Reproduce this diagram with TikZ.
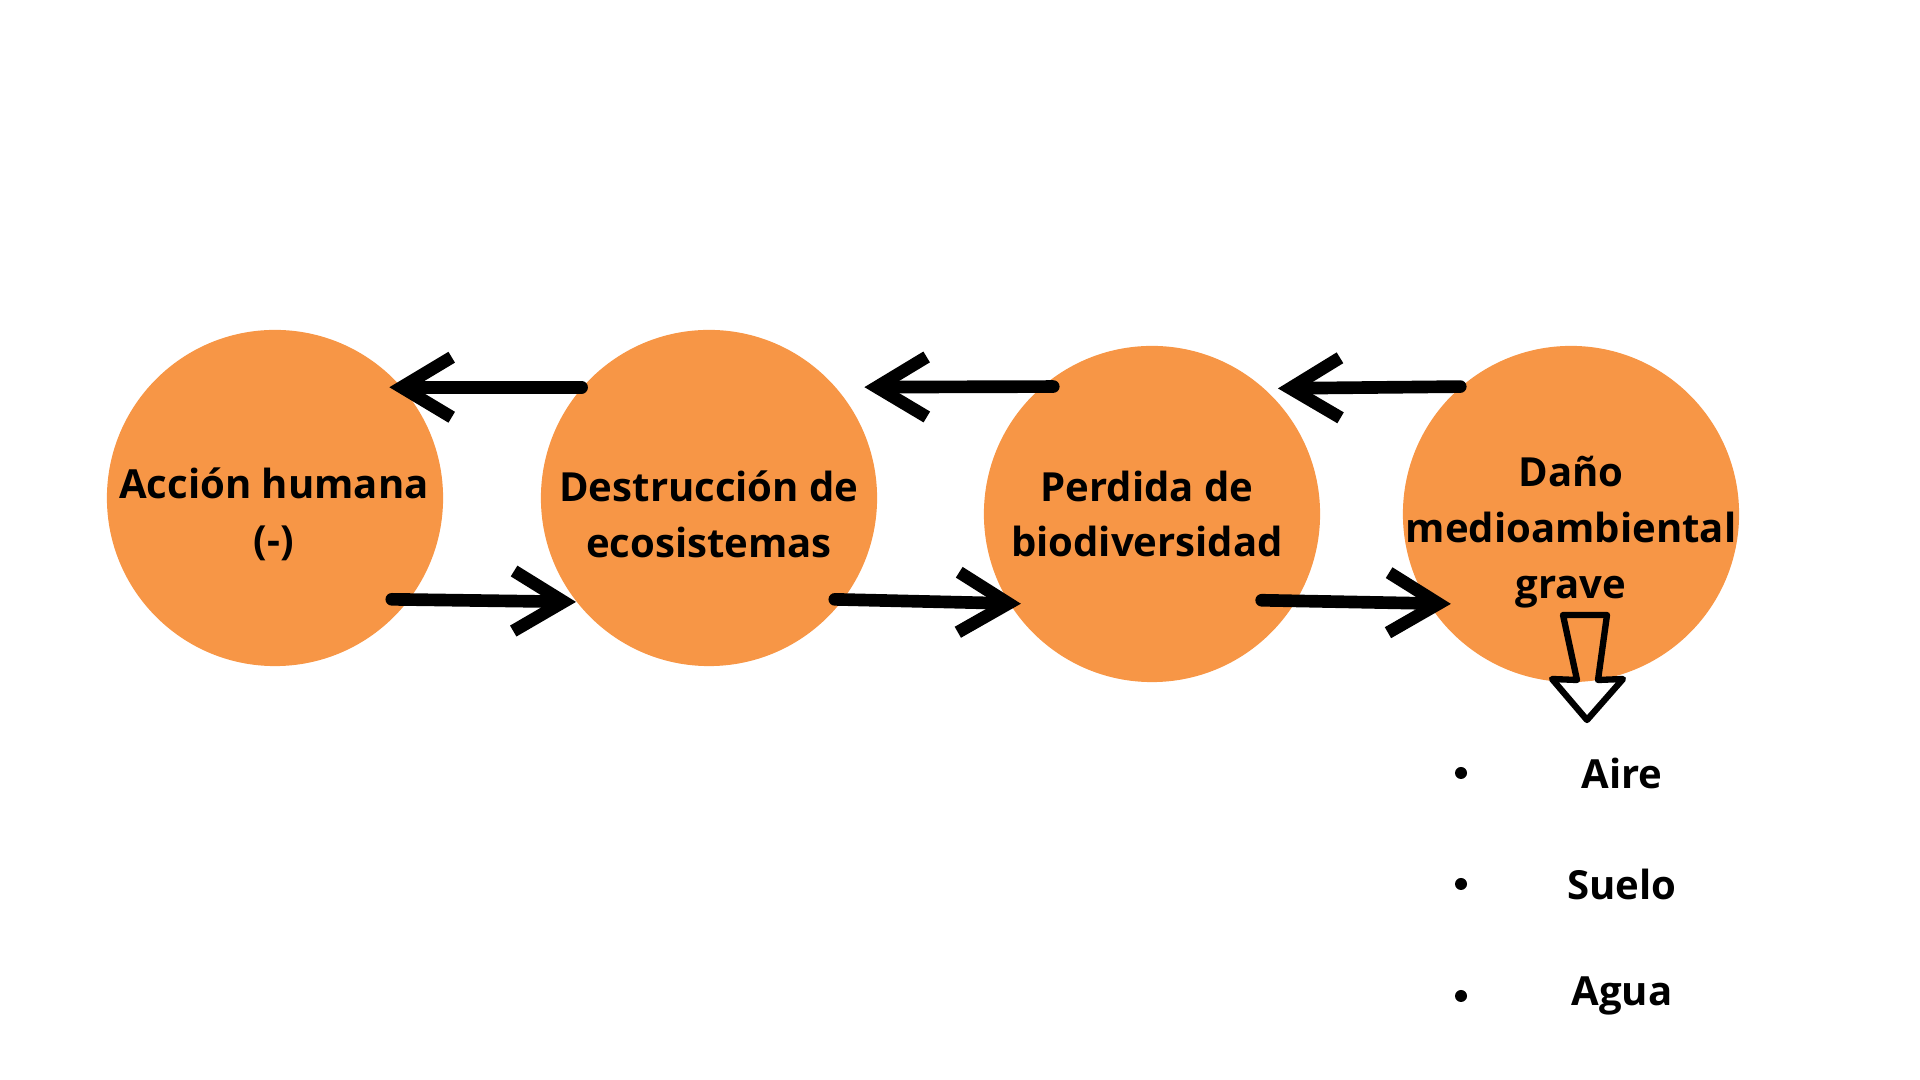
\documentclass[tikz,border=0pt]{standalone}
\usepackage{fontspec}
\setmainfont{Open Sans}
\usetikzlibrary{arrows.meta}
\definecolor{naranja}{HTML}{F79646}

\begin{document}
\begin{tikzpicture}[x=0.01cm,y=-0.01cm,
		bola/.style={shape=circle,fill=naranja,minimum size=3.36cm,inner sep=0pt},
		texto/.style={align=center,font=\fontsize{11.4}{15.9}\selectfont\bfseries},
		flecha/.style={line width=3.6pt,line cap=round,-{Straight Barb[length=0.5cm,width=0.6cm,line width=3.6pt]}}]
			\useasboundingbox (0,0) rectangle (1920,1080);
			\node[bola] (acc) at (275,498) {};
			\node[bola] (des) at (709,498) {};
			\node[bola] (per) at (1152,514) {};
			\node[bola] (dan) at (1571,514) {};
			\node[texto] (acc-t) at (274,514) {Acción humana\\(-)};
			\node[texto] (des-t) at (709,514) {Destrucción de\\ecosistemas};
			\node[texto] (per-t) at (1147,514) {Perdida de\\biodiversidad};
			\node[texto] (dan-t) at (1571,532) {Daño\\medioambiental\\grave};
			
			\draw[flecha,shorten >=-0.13cm] (des.139) -- (acc.41);
			\draw[flecha,shorten <=-0.12cm,shorten >=0.28cm] (per.131.4) -- (des.41);
			\draw[flecha,shorten >=0.13cm] (dan.131.4) -- (per.48.6);
			\draw[flecha,shorten <=-0.18cm] (acc.-37.8) -- (des.-142.2);
			\draw[flecha,shorten <=-0.09cm,shorten >=-0.12cm] (des.-37.8) -- (per.-148.8);
			\draw[flecha,shorten <=-0.35cm,shorten >=-0.23cm] (per.-31.2) -- (dan.-148.8);
			
			\draw[line width=1.8pt,line join=round] (1563,615) -- (1607,615) -- (1598,680) -- (1623,679) -- (1587,720) -- (1552,679) -- (1577,680) -- cycle;
			
			\node[texto] (aire) at (1622,773) {Aire};
			\node[texto] (suelo) at (1622,884) {Suelo};
			\node[texto] (agua) at (1622,996) {Agua};
			\fill (aire -| 1461,0) circle (6);
			\fill (suelo -| 1461,0) circle (6);
			\fill (agua -| 1461,0) circle (6);
		\end{tikzpicture}
\end{document}
